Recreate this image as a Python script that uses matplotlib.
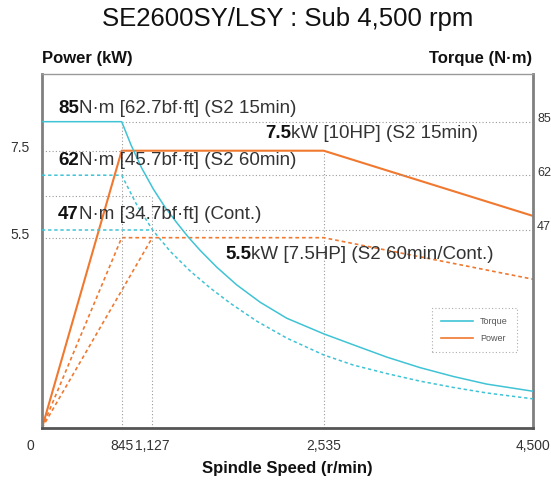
import numpy as np
import matplotlib
matplotlib.use("Agg")
import matplotlib.pyplot as plt
from matplotlib.lines import Line2D
from matplotlib.transforms import ScaledTranslation

# --- data ---
rpm_ticks = [0, 845, 1127, 2535, 4500]
rpm_labels = ["0", "845", "1,127", "2,535", "4,500"]
power_ticks = [5.5, 7.5]
torque_ticks = [47, 62, 85]

# torque S2 15min (solid)
t15_rpm = [0, 845, 931, 1029, 1135, 1231, 1330, 1423, 1519, 1656, 1820,
           2012, 2231, 2535, 2813, 3126, 3439, 3752, 4065, 4500]
t15_nm = [85, 85, 75.0, 65.1, 58.2, 53.2, 48.8, 45.2, 42.1, 38.1, 33.9,
          29.8, 26.0, 22.3, 19.7, 16.8, 14.3, 12.2, 10.4, 8.7]
# torque S2 60min (dashed), joins the cont. curve after 1,127
t60_rpm = [0, 845, 977, 1127, 1272, 1437, 1601, 1765, 1985, 2231, 2535,
           2813, 3126, 3439, 3752, 4065, 4500]
t60_nm = [62, 62, 54.2, 47, 41.9, 37.2, 33.2, 29.6, 25.3, 21.3, 17.3,
          14.9, 12.9, 11.1, 9.6, 8.3, 6.9]
tcont_rpm = [0, 1127]
tcont_nm = [47, 47]

# power
p15_rpm = [0, 845, 2535, 4500]
p15_kw = [0, 7.5, 7.5, 6.0]
p60_rpm = [0, 845, 2535, 4500]
p60_kw = [0, 5.5, 5.5, 4.3]
pcont_rpm = [0, 1127]
pcont_kw = [0, 5.5]

guide_kw = 6.47  # crosshair at 1,127

# --- the drawing is schematic, so map values onto the picture piecewise ---
def piecewise(vals, fracs):
    vals = np.asarray(vals, float)
    fracs = np.asarray(fracs, float)
    return (lambda v: np.interp(v, vals, fracs),
            lambda f: np.interp(f, fracs, vals))

x_fwd, x_inv = piecewise([0, 845, 1127, 2535, 4500, 6000],
                         [0, .1623, .2246, .5737, 1.0, 1.326])
p_fwd, p_inv = piecewise([0, 5.5, 7.5, 10], [0, .5376, .7833, 1.0904])
t_fwd, t_inv = piecewise([0, 47, 62, 85, 120], [0, .5607, .7141, .8653, 1.0954])

CYAN = "#3fc3d5"
ORANGE = "#f0782f"
GRID = "#9a9a9a"
DOT = (0, (1, 2))
DASH = (0, (2.2, 1.8))
FONT = "Liberation Sans"

plt.rcParams["font.family"] = [FONT, "DejaVu Sans"]

fig = plt.figure(figsize=(5.51, 4.84), dpi=100)
ax = fig.add_axes([42 / 551, 56 / 484, 491 / 551, 354 / 484])
ax.set_xscale("function", functions=(x_fwd, x_inv))
ax.set_yscale("function", functions=(p_fwd, p_inv))
ax2 = ax.twinx()
ax2.set_yscale("function", functions=(t_fwd, t_inv))

ax.set_xlim(0, 4500)
ax.set_ylim(0, float(p_inv(1.0)))
ax2.set_ylim(0, float(t_inv(1.0)))

# guide lines
gkw = dict(colors=GRID, linestyles=[DOT], lw=0.8, zorder=1)
ax.hlines(power_ticks, 0, 845, **gkw)
ax.hlines(guide_kw, 0, 1127, **gkw)
ax.vlines(1127, 0, guide_kw, **gkw)
ax.vlines(2535, 0, 7.5, **gkw)
ax2.hlines([85, 62], 845, 4500, **gkw)
ax2.hlines(47, 1127, 4500, **gkw)
ax2.vlines(845, 0, 85, **gkw)

# power curves
ax.plot(p15_rpm, p15_kw, color=ORANGE, lw=1.5, zorder=3)
ax.plot(p60_rpm, p60_kw, color=ORANGE, lw=1.2, ls=DASH, zorder=3)
ax.plot(pcont_rpm, pcont_kw, color=ORANGE, lw=1.2, ls=DASH, zorder=3)

# torque curves
ax2.plot(t15_rpm, t15_nm, color=CYAN, lw=1.1, zorder=3)
ax2.plot(t60_rpm, t60_nm, color=CYAN, lw=1.1, ls=DASH, zorder=3)
ax2.plot(tcont_rpm, tcont_nm, color=CYAN, lw=1.1, ls=DASH, zorder=3)

# ticks
for a in (ax, ax2):
    a.tick_params(length=0, colors="#333333", labelsize=10)
    a.xaxis.set_minor_locator(matplotlib.ticker.NullLocator())
    a.yaxis.set_minor_locator(matplotlib.ticker.NullLocator())
ax.set_xticks(rpm_ticks, rpm_labels)
ax.tick_params(axis="x", pad=8)
ax.set_yticks(power_ticks, [str(v) for v in power_ticks])
ax.tick_params(axis="y", pad=9)
ax2.set_yticks(torque_ticks, [str(v) for v in torque_ticks])
ax2.tick_params(axis="y", pad=3, labelsize=9)

up = ScaledTranslation(0, 4 / 100, fig.dpi_scale_trans)
for lab in ax.get_yticklabels() + ax2.get_yticklabels():
    lab.set_transform(lab.get_transform() + up)
zero = ax.get_xticklabels()[0]
zero.set_transform(zero.get_transform() + ScaledTranslation(-12 / 100, 0, fig.dpi_scale_trans))

# frame
for s in ax.spines.values():
    s.set_visible(False)
for name, s in ax2.spines.items():
    s.set_color("#808080")
    s.set_linewidth(2)
ax2.spines["top"].set_linewidth(1)
ax2.spines["top"].set_color("#999999")
ax2.spines["bottom"].set_color("#555555")

# annotations: bold number + regular rest
def note(x, y, num, rest, size=13.5):
    t = ax2.text(x, y, num, transform=ax2.transAxes, fontsize=size,
                 fontweight="bold", color="#111111", va="center", zorder=5)
    ax2.annotate(rest, xy=(1, 0), xycoords=t, fontsize=size, color="#333333",
                 va="bottom", ha="left", zorder=5)

note(0.033, 0.902, "85", "N·m [62.7bf·ft] (S2 15min)")
note(0.454, 0.833, "7.5", "kW [10HP] (S2 15min)")
note(0.033, 0.757, "62", "N·m [45.7bf·ft] (S2 60min)")
note(0.033, 0.602, "47", "N·m [34.7bf·ft] (Cont.)")
note(0.373, 0.489, "5.5", "kW [7.5HP] (S2 60min/Cont.)")

# legend
handles = [Line2D([], [], color=CYAN, lw=1.2), Line2D([], [], color=ORANGE, lw=1.2)]
leg = ax2.legend(handles, ["Torque", "Power"], loc="lower right",
                 bbox_to_anchor=(0.967, 0.214), borderaxespad=0, fontsize=6.5,
                 frameon=True, fancybox=False, edgecolor="#999999",
                 handlelength=3.5, borderpad=1.0, labelspacing=0.9,
                 labelcolor="#555555")
leg.get_frame().set_linestyle(DOT)
leg.get_frame().set_linewidth(0.8)

# titles
fig.text(287.5 / 551, 1 - 19 / 484, "SE2600SY/LSY : Sub 4,500 rpm",
         ha="center", va="center", fontsize=18.5, color="#111111")
fig.text(42.5 / 551, 1 - 59 / 484, "Power (kW)", ha="left", va="center",
         fontsize=12, fontweight="bold", color="#111111")
fig.text(532 / 551, 1 - 59 / 484, "Torque (N·m)", ha="right", va="center",
         fontsize=12, fontweight="bold", color="#111111")
fig.text(287 / 551, 1 - 469 / 484, "Spindle Speed (r/min)", ha="center",
         va="center", fontsize=12, fontweight="bold", color="#111111")

fig.savefig("out.png", dpi=100)
